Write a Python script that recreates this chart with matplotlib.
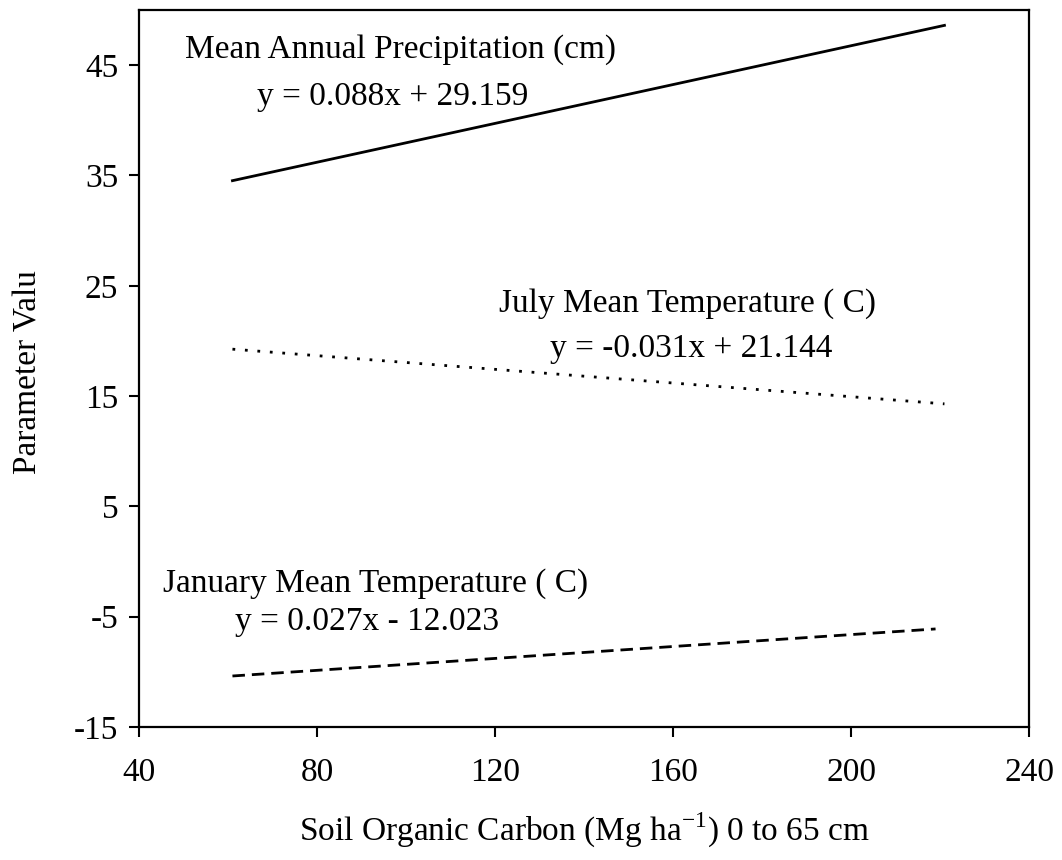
import numpy as np
import matplotlib
matplotlib.use('Agg')
import matplotlib.pyplot as plt

# regression lines: soil organic carbon vs climate parameters
series_names = ['Mean Annual Precipitation (cm)',
                'July Mean Temperature ( C)',
                'January Mean Temperature ( C)']
slopes = [0.088, -0.031, 0.027]
intercepts = [29.159, 21.144, -12.023]
x_start = [61, 61, 61]
x_end = [221, 221, 219]
eq_labels = ['y = 0.088x + 29.159',
             'y = -0.031x + 21.144',
             'y = 0.027x - 12.023']

x_ticks = [40, 80, 120, 160, 200, 240]
y_ticks = [-15, -5, 5, 15, 25, 35, 45]

plt.rcParams['font.family'] = ['Liberation Serif', 'DejaVu Serif']
plt.rcParams['axes.unicode_minus'] = False
FS = 24

fig = plt.figure(figsize=(10.62, 8.6), dpi=100)
ax = fig.add_axes([139 / 1062, 1 - 727 / 860, (1029 - 139) / 1062, (727 - 10) / 860])

styles = [dict(linestyle='-', linewidth=2.0),
          dict(linestyle=(0, (1.0, 3.5)), linewidth=2.0),
          dict(linestyle=(0, (4.5, 2.5)), linewidth=2.0)]

for m, b, x0, x1, st in zip(slopes, intercepts, x_start, x_end, styles):
    xs = np.array([x0, x1], dtype=float)
    ax.plot(xs, m * xs + b, color='black', **st)

# series name and fitted equation for each line
name_pos = [(50.3, 46.4), (121.0, 23.4), (45.4, -2.0)]
eq_pos = [(66.5, 42.1), (132.4, 19.3), (61.6, -5.5)]
for name, eq, (nx, ny), (ex, ey) in zip(series_names, eq_labels, name_pos, eq_pos):
    ax.text(nx, ny, name, fontsize=FS, ha='left', va='center')
    ax.text(ex, ey, eq, fontsize=FS, ha='left', va='center')

ax.set_xlim(40, 240)
ax.set_ylim(-15, 50)
ax.set_xticks(x_ticks)
ax.set_yticks(y_ticks)
ax.tick_params(axis='both', direction='out', length=7, width=1.5, labelsize=FS)
ax.tick_params(axis='x', pad=15)
ax.tick_params(axis='y', pad=8)
for sp in ax.spines.values():
    sp.set_linewidth(1.6)

fig.text(28 / 1062, 1 - 372 / 860, 'Parameter Valu', rotation=90,
         fontsize=FS, ha='center', va='center')
fig.text(584 / 1062, 1 - 830 / 860,
         'Soil Organic Carbon (Mg ha$^{\\mathregular{-1}}$) 0 to 65 cm',
         fontsize=FS, ha='center', va='center')

fig.savefig('out.png', dpi=100)
